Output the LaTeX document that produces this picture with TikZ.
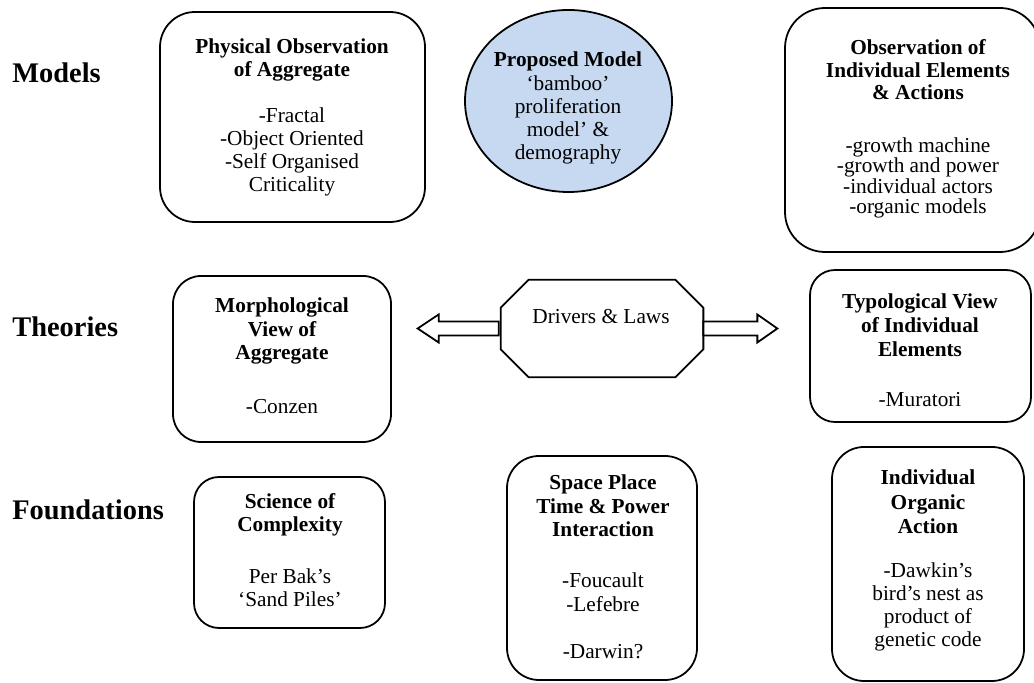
\documentclass[tikz,border=0pt]{standalone}
\usepackage{fontspec}
\setmainfont{Liberation Serif}
\usetikzlibrary{shapes.geometric,calc}
\definecolor{modelblue}{HTML}{C6D9F1}
\newcommand\pxlen{0.5634pt}
\tikzset{
  outline/.style={draw=black, line width=1pt, line join=round},
  panel/.style n args={3}{outline, rectangle, inner sep=0pt,
    minimum width=#1*\pxlen, minimum height=#2*\pxlen, rounded corners=#3*\pxlen},
  txt/.style={align=center, inner sep=0pt, font=\fontsize{12}{13}\selectfont},
  head/.style={align=center, inner sep=0pt, font=\fontsize{12}{13}\selectfont\bfseries},
  rowlabel/.style={anchor=west, inner sep=0pt, font=\fontsize{16}{19}\selectfont\bfseries},
  blockarrow/.style={outline, fill=white, line join=miter},
}
\begin{document}
\begin{tikzpicture}[x=0.5634pt, y=-0.5634pt]
\useasboundingbox (0,0) rectangle (1034,683);
\clip (0,0) rectangle (1034,683);

% row labels
\node[rowlabel] (lmodels) at (12,73) {Models};
\node[rowlabel] (ltheories) at (12,327) {Theories};
\node[rowlabel] (lfound) at (12,510) {Foundations};

% models row
\node[panel={265}{210}{35}] (obsagg) at (292.5,117) {};
\node[head] (obsaggh) at (292,60) {Physical Observation\\of Aggregate};
\node[txt] (obsaggt) at (292,152) {-Fractal\\-Object Oriented\\-Self Organised\\Criticality};

\node[ellipse, outline, fill=modelblue, inner sep=0pt,
      minimum width=207*\pxlen, minimum height=182*\pxlen] (prop) at (568.5,101) {};
\node[txt] (propt) at (568,108) {\textbf{Proposed Model}\\‘bamboo’\\proliferation\\model’ \&\\demography};

\node[panel={255}{244}{40}] (obsind) at (912.5,130) {};
\node[head, font=\fontsize{12}{12.7}\selectfont\bfseries] (obsindh) at (918,70) {Observation of\\Individual Elements\\\& Actions};
\node[txt, font=\fontsize{12}{11.5}\selectfont] (obsindt) at (918,178) {-growth machine\\-growth and power\\-individual actors\\-organic models};

% theories row
\node[panel={218}{166}{28}] (morph) at (282,359) {};
\node[head, font=\fontsize{12}{13.2}\selectfont\bfseries] (morphh) at (282,331) {Morphological\\View of\\Aggregate};
\node[txt] (morpht) at (282,407) {-Conzen};

\node[inner sep=0pt, minimum width=202*\pxlen, minimum height=97*\pxlen] (oct) at (602,328.5) {};
\draw[outline] ($(oct.north west)+(28,0)$) -- ($(oct.north east)+(-28,0)$)
  -- ($(oct.north east)+(0,28)$) -- ($(oct.south east)+(0,-28)$)
  -- ($(oct.south east)+(-28,0)$) -- ($(oct.south west)+(28,0)$)
  -- ($(oct.south west)+(0,-28)$) -- ($(oct.north west)+(0,28)$) -- cycle;
\node[txt] (octt) at (601,317) {Drivers \& Laws};

\draw[blockarrow] ($(oct.west)+(-2,-7)$) -- ++(-60,0) -- ++(0,-7) -- ++(-21,14)
  -- ++(21,14) -- ++(0,-7) -- ++(60,0) -- cycle;
\draw[blockarrow] ($(oct.east)+(0,-7)$) -- ++(54,0) -- ++(0,-7) -- ++(20,14)
  -- ++(-20,14) -- ++(0,-7) -- ++(-54,0) -- cycle;

\node[panel={221}{152}{25}] (typo) at (920.5,346) {};
\node[head, font=\fontsize{12}{13.6}\selectfont\bfseries] (typoh) at (920,325) {Typological View\\of Individual\\Elements};
\node[txt] (typot) at (920,400) {-Muratori};

% foundations row
\node[panel={191}{151}{25}] (sci) at (289.5,552.5) {};
\node[head] (scih) at (290,515) {Science of\\Complexity};
\node[txt] (scit) at (290,588) {Per Bak’s\\‘Sand Piles’};

\node[panel={190}{224}{32}] (space) at (602,568) {};
\node[head, font=\fontsize{12}{13.2}\selectfont\bfseries] (spaceh) at (603,506) {Space Place\\Time \& Power\\Interaction};
\node[txt, font=\fontsize{12}{13.3}\selectfont] (spacet) at (603,616) {-Foucault\\-Lefebre\\[13.3pt]-Darwin?};

\node[panel={192}{234}{32}] (indiv) at (928,564) {};
\node[head, font=\fontsize{12}{13.7}\selectfont\bfseries] (indivh) at (928,502) {Individual\\Organic\\Action};
\node[txt] (indivt) at (928,607) {-Dawkin’s\\bird’s nest as\\product of\\genetic code};
\end{tikzpicture}
\end{document}
